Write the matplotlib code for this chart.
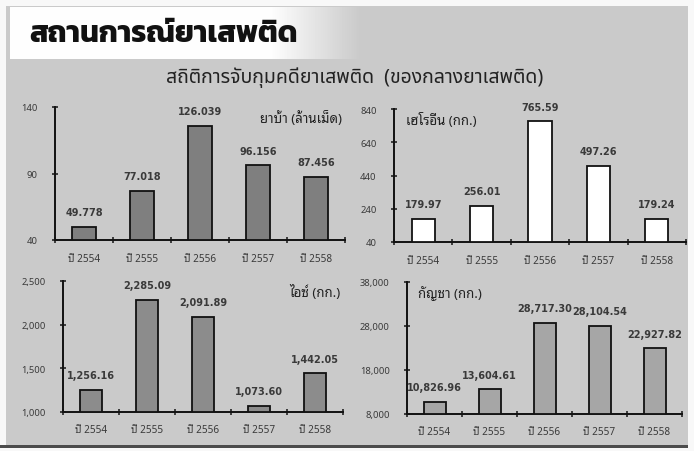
import numpy as np
import matplotlib
matplotlib.use("Agg")
import matplotlib.pyplot as plt
from matplotlib.ticker import FuncFormatter

plt.rcParams['font.family'] = ['Noto Sans Thai Looped', 'DejaVu Sans']

years = ['ปี 2554', 'ปี 2555', 'ปี 2556', 'ปี 2557', 'ปี 2558']

yaba = [49.778, 77.018, 126.039, 96.156, 87.456]
heroin = [179.97, 256.01, 765.59, 497.26, 179.24]
ice = [1256.16, 2285.09, 2091.89, 1073.60, 1442.05]
ganja = [10826.96, 13604.61, 28717.30, 28104.54, 22927.82]

W, H = 694, 452
fig = plt.figure(figsize=(W / 100, H / 100), dpi=100)

# scanned-page background
bg = np.full((H, W), 0.97)
bg[7:447, 6:688] = 0.79
xs = np.arange(W)
fade = np.clip((360 - xs) / 90.0, 0, 1)
bg[8:60, 10:688] = 0.79 + (0.995 - 0.79) * fade[10:688]
bg[446:449, :688] = 0.3
bga = fig.add_axes([0, 0, 1, 1], zorder=-5)
bga.imshow(bg, cmap='gray', vmin=0, vmax=1, aspect='auto', interpolation='bilinear')
bga.axis('off')


def rect(l, t, r, b):
    return [l / W, (H - b) / H, (r - l) / W, (b - t) / H]


fig.text(29 / W, 1 - 35 / H, 'สถานการณ์ยาเสพติด', family=['Kanit', 'DejaVu Sans'],
         fontsize=21.5, fontweight='bold', va='center', color='#111111')
fig.text(355 / W, 1 - 78 / H, 'สถิติการจับกุมคดียาเสพติด  (ของกลางยาเสพติด)',
         family=['Noto Sans Thai', 'DejaVu Sans'], fontsize=14, ha='center', va='center',
         color='#222222')


def panel(box, vals, ylim, yticks, color, width, label, label_pos, fmt):
    ax = fig.add_axes(rect(*box))
    ax.patch.set_alpha(0)
    x = np.arange(len(vals)) + 0.5
    ax.bar(x, np.array(vals) - ylim[0], bottom=ylim[0], width=width, color=color,
           edgecolor='#111111', linewidth=1.3, zorder=3)
    for xi, v in zip(x, vals):
        ax.annotate(fmt(v), (xi, v), xytext=(0, 7), textcoords='offset points',
                    ha='center', va='bottom', fontsize=7, fontweight='semibold',
                    color='#3a3a3a', family=['DejaVu Sans'])
    ax.set_xlim(0, len(vals))
    ax.set_ylim(*ylim)
    ax.set_yticks(yticks)
    ax.yaxis.set_major_formatter(FuncFormatter(lambda v, p: '{:,.0f}'.format(v)))
    ax.set_xticks(np.arange(len(vals) + 1))
    ax.set_xticklabels([])
    ax.set_xticks(x, minor=True)
    ax.set_xticklabels(years, minor=True)
    ax.tick_params(axis='x', which='major', direction='inout', length=5, width=1.2, color='#222222')
    ax.tick_params(axis='x', which='minor', length=0, pad=9, labelsize=7.2, labelcolor='#3a3a3a')
    ax.tick_params(axis='y', direction='inout', length=5, width=1.2, labelsize=6.8,
                   labelcolor='#3a3a3a', pad=10, color='#222222')
    for s in ['top', 'right']:
        ax.spines[s].set_visible(False)
    for s in ['left', 'bottom']:
        ax.spines[s].set_linewidth(1.4)
        ax.spines[s].set_color('#111111')
    ha = 'right' if label_pos > 0.5 else 'left'
    ax.text(label_pos, 0.98, label, transform=ax.transAxes, ha=ha, va='top',
            fontsize=9.5, color='#222222')
    return ax


f3 = lambda v: '{:.3f}'.format(v)
f2 = lambda v: '{:,.2f}'.format(v)

panel((55, 108, 345, 241), yaba, (40, 140), [40, 90, 140], '#7f7f7f', 0.43,
      'ยาบ้า (ล้านเม็ด)', 0.99, f3)
panel((394, 110, 686, 243), heroin, (40, 840), [40, 240, 440, 640, 840], '#ffffff', 0.4,
      'เฮโรอีน (กก.)', 0.04, f2)
panel((63, 282, 343, 413), ice, (1000, 2500), [1000, 1500, 2000, 2500], '#8c8c8c', 0.4,
      'ไอซ์ (กก.)', 0.99, f2)
panel((407, 283, 682, 415), ganja, (8000, 38000), [8000, 18000, 28000, 38000], '#a6a6a6', 0.4,
      'กัญชา (กก.)', 0.04, f2)

fig.savefig('out.png', dpi=100)
